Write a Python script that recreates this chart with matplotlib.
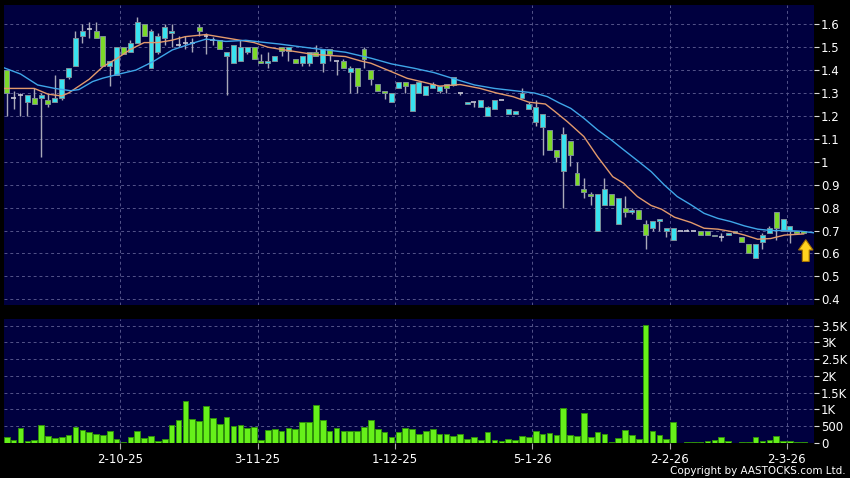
import numpy as np
import matplotlib
matplotlib.use("Agg")
import matplotlib.pyplot as plt
from matplotlib.patches import FancyArrow

# ---- data (one candle per trading day) ----
opens = [1.40, 1.28, 1.29, 1.26, 1.28, 1.28, 1.27, 1.26, 1.28, 1.37,
         1.42, 1.55, 1.58, 1.57, 1.55, 1.42, 1.38, 1.50, 1.48, 1.52,
         1.60, 1.41, 1.48, 1.54, 1.56, 1.51, 1.52, 1.52, 1.59, 1.55,
         1.53, 1.53, 1.46, 1.43, 1.44, 1.48, 1.50, 1.44, 1.43, 1.44,
         1.50, 1.485, 1.45, 1.43, 1.43, 1.48, 1.43, 1.49, 1.44, 1.44,
         1.39, 1.41, 1.49, 1.40, 1.34, 1.31, 1.26, 1.32, 1.35, 1.22,
         1.30, 1.29, 1.32, 1.31, 1.34, 1.335, 1.30, 1.252, 1.26, 1.24,
         1.20, 1.23, 1.27, 1.21, 1.21, 1.28, 1.23, 1.175, 1.15, 1.14,
         1.05, 0.96, 1.09, 0.95, 0.88, 0.86, 0.70, 0.81, 0.86, 0.73,
         0.80, 0.78, 0.79, 0.73, 0.71, 0.74, 0.70, 0.66, 0.70, 0.70,
         0.70, 0.70, 0.70, 0.68, 0.673, 0.68, 0.69, 0.67, 0.64, 0.58,
         0.65, 0.69, 0.78, 0.70, 0.70, 0.70, 0.70]
highs = [1.40, 1.31, 1.30, 1.29, 1.32, 1.30, 1.30, 1.38, 1.36, 1.41,
         1.57, 1.60, 1.61, 1.61, 1.55, 1.44, 1.50, 1.50, 1.53, 1.63,
         1.60, 1.58, 1.56, 1.60, 1.60, 1.55, 1.55, 1.54, 1.60, 1.56,
         1.545, 1.53, 1.48, 1.51, 1.53, 1.50, 1.50, 1.47, 1.48, 1.46,
         1.50, 1.50, 1.45, 1.46, 1.48, 1.51, 1.49, 1.49, 1.44, 1.45,
         1.42, 1.41, 1.50, 1.40, 1.34, 1.31, 1.30, 1.35, 1.35, 1.34,
         1.35, 1.33, 1.35, 1.33, 1.34, 1.37, 1.30, 1.26, 1.26, 1.27,
         1.245, 1.27, 1.27, 1.23, 1.22, 1.32, 1.26, 1.27, 1.21, 1.14,
         1.05, 1.15, 1.09, 1.00, 0.93, 0.87, 0.86, 0.93, 0.86, 0.84,
         0.85, 0.80, 0.79, 0.745, 0.74, 0.75, 0.71, 0.71, 0.70, 0.705,
         0.70, 0.70, 0.70, 0.68, 0.69, 0.69, 0.70, 0.67, 0.64, 0.64,
         0.69, 0.72, 0.78, 0.75, 0.72, 0.70, 0.70]
lows = [1.20, 1.23, 1.20, 1.20, 1.25, 1.02, 1.24, 1.26, 1.27, 1.36,
        1.42, 1.52, 1.54, 1.54, 1.42, 1.33, 1.38, 1.47, 1.48, 1.52,
        1.55, 1.41, 1.47, 1.51, 1.50, 1.50, 1.49, 1.48, 1.55, 1.47,
        1.51, 1.49, 1.29, 1.43, 1.44, 1.47, 1.45, 1.43, 1.41, 1.44,
        1.46, 1.44, 1.43, 1.42, 1.42, 1.46, 1.39, 1.44, 1.38, 1.41,
        1.30, 1.30, 1.41, 1.335, 1.31, 1.275, 1.26, 1.32, 1.30, 1.22,
        1.30, 1.29, 1.32, 1.30, 1.30, 1.33, 1.29, 1.25, 1.24, 1.24,
        1.20, 1.23, 1.27, 1.21, 1.21, 1.28, 1.23, 1.155, 1.03, 1.05,
        1.00, 0.80, 0.98, 0.90, 0.84, 0.81, 0.70, 0.81, 0.81, 0.73,
        0.76, 0.77, 0.75, 0.62, 0.70, 0.70, 0.67, 0.66, 0.70, 0.70,
        0.70, 0.68, 0.68, 0.675, 0.656, 0.68, 0.69, 0.65, 0.60, 0.58,
        0.62, 0.69, 0.66, 0.70, 0.645, 0.69, 0.69]
closes = [1.30, 1.28, 1.29, 1.29, 1.25, 1.29, 1.25, 1.28, 1.36, 1.41,
          1.54, 1.57, 1.58, 1.54, 1.42, 1.44, 1.50, 1.47, 1.52, 1.61,
          1.55, 1.57, 1.55, 1.59, 1.57, 1.51, 1.52, 1.52, 1.57, 1.55,
          1.53, 1.49, 1.48, 1.51, 1.50, 1.50, 1.45, 1.43, 1.44, 1.46,
          1.485, 1.50, 1.43, 1.46, 1.48, 1.46, 1.49, 1.47, 1.44, 1.41,
          1.41, 1.33, 1.45, 1.36, 1.31, 1.30, 1.30, 1.35, 1.33, 1.34,
          1.35, 1.33, 1.34, 1.33, 1.32, 1.37, 1.30, 1.26, 1.26, 1.27,
          1.24, 1.27, 1.27, 1.23, 1.22, 1.30, 1.25, 1.24, 1.21, 1.05,
          1.02, 1.12, 1.03, 0.90, 0.87, 0.85, 0.86, 0.88, 0.81, 0.84,
          0.78, 0.79, 0.75, 0.68, 0.74, 0.75, 0.71, 0.71, 0.70, 0.70,
          0.70, 0.68, 0.68, 0.675, 0.673, 0.69, 0.70, 0.65, 0.60, 0.64,
          0.68, 0.71, 0.71, 0.75, 0.72, 0.69, 0.69]
volumes = [169, 99, 456, 60, 99, 526, 198, 139, 188, 238,
           476, 387, 317, 278, 228, 367, 129, 15, 188, 367,
           149, 208, 69, 109, 526, 675, 1250, 724, 665, 1111,
           734, 565, 774, 506, 526, 436, 476, 89, 397, 427,
           357, 456, 427, 635, 615, 1141, 675, 347, 436, 347,
           347, 367, 466, 675, 427, 327, 169, 327, 436, 417,
           268, 347, 407, 258, 278, 208, 278, 119, 169, 99,
           327, 79, 69, 119, 99, 198, 179, 357, 258, 308,
           228, 1042, 248, 218, 883, 169, 327, 268, 40, 159,
           387, 228, 129, 3510, 347, 248, 129, 635, 10, 40,
           20, 40, 69, 89, 169, 60, 5, 30, 30, 179,
           50, 89, 208, 60, 60, 30, 20]

# moving averages (candle index, price)
ma10_x = [-0.4, 4, 6, 8, 9, 10, 12, 14, 16, 18, 20, 22, 24, 26, 29, 32, 34,
          36, 38, 40, 44.5, 49.3, 51.5, 53, 56, 58.3, 60.3, 63, 66, 68.9,
          71.3, 73.7, 76, 78.4, 79.8, 81.6, 84, 86, 88.2, 89.8, 91.8, 93.8,
          95.3, 97.2, 99.6, 101.5, 103.5, 105.4, 107.4, 109.3, 111.2, 113.2,
          116]
ma10_y = [1.32, 1.32, 1.295, 1.287, 1.30, 1.32, 1.36, 1.415, 1.45, 1.49,
          1.52, 1.52, 1.53, 1.546, 1.555, 1.54, 1.53, 1.52, 1.50, 1.49,
          1.469, 1.459, 1.44, 1.43, 1.393, 1.364, 1.35, 1.33, 1.337, 1.32,
          1.30, 1.284, 1.26, 1.252, 1.219, 1.175, 1.11, 1.022, 0.935, 0.906,
          0.848, 0.809, 0.793, 0.758, 0.735, 0.71, 0.706, 0.696, 0.68,
          0.662, 0.665, 0.68, 0.685]
ma20_x = [-0.4, 2, 4.5, 7, 9.3, 10.5, 12.5, 14, 16.4, 18.8, 21.3, 24.1, 27,
          29, 31.9, 34.8, 37.7, 39.6, 44.5, 49.3, 53, 56, 59.3, 62.2, 65.2,
          68.1, 71, 73.9, 76.8, 78.7, 80.4, 82.1, 84, 86, 88, 89.8, 91.8,
          93.8, 95.7, 97.6, 99.6, 101.5, 103.5, 105.4, 107.4, 109.3, 111.2,
          113.2, 115.6, 117.5]
ma20_y = [1.41, 1.383, 1.335, 1.32, 1.31, 1.315, 1.35, 1.365, 1.383, 1.40,
          1.437, 1.488, 1.517, 1.535, 1.525, 1.53, 1.52, 1.514, 1.495, 1.478,
          1.452, 1.427, 1.408, 1.389, 1.361, 1.335, 1.32, 1.31, 1.30, 1.284,
          1.257, 1.233, 1.19, 1.139, 1.095, 1.052, 1.005, 0.957, 0.899,
          0.848, 0.812, 0.775, 0.753, 0.739, 0.72, 0.706, 0.70, 0.70, 0.697,
          0.69]

date_pos = [16.5, 36.5, 56.5, 76.5, 96.5, 113.5]
date_labels = ['2-10-25', '3-11-25', '1-12-25', '5-1-26', '2-2-26', '2-3-26']
price_ticks = [0.4, 0.5, 0.6, 0.7, 0.8, 0.9, 1.0, 1.1, 1.2, 1.3, 1.4, 1.5, 1.6]
vol_ticks = [0, 500, 1000, 1500, 2000, 2500, 3000, 3500]
vol_labels = ['0', '500', '1K', '1.5K', '2K', '2.5K', '3K', '3.5K']

# ---- styling ----
BG = '#00003f'
GRID = '#54548a'
UP = '#38e2f0'
DOWN = '#7cd92a'

o = np.array(opens); h = np.array(highs); l = np.array(lows); c = np.array(closes)
x = np.arange(len(o))

fig = plt.figure(figsize=(8.5, 4.78), dpi=100, facecolor='black')
ax = fig.add_axes([4/850, 1 - 305/478, 810/850, 300/478])
axv = fig.add_axes([4/850, 1 - 443/478, 810/850, 124/478], sharex=ax)

for a in (ax, axv):
    a.set_facecolor(BG)
    for s in a.spines.values():
        s.set_visible(False)
    a.yaxis.tick_right()
    a.tick_params(axis='y', colors='#dddddd', labelcolor='white', labelsize=8.5,
                  length=3.5, width=0.8, pad=1.5)
    a.grid(True, color=GRID, linestyle=(0, (3, 3)), linewidth=0.7)
    a.set_axisbelow(True)

# candles
ax.vlines(x, l, h, color='#a9a9b9', linewidth=1, zorder=2)
body = np.abs(c - o)
flat = body < 0.005
colors = [UP if cc > oo else DOWN for oo, cc in zip(o, c)]
ax.bar(x[~flat], body[~flat], bottom=np.minimum(o, c)[~flat], width=0.72,
       color=np.array(colors)[~flat], edgecolor='#7d8e98', linewidth=0.7, zorder=3)
ax.hlines(c[flat], x[flat] - 0.36, x[flat] + 0.36, color='#c8c8d4', linewidth=1.2, zorder=3)

ax.plot(ma10_x, ma10_y, color='#e39a6c', linewidth=1, zorder=4)
ax.plot(ma20_x, ma20_y, color='#3fa6e8', linewidth=1, zorder=4)

# marker arrow under the last candle
ax.add_patch(FancyArrow(116.3, 0.565, 0, 0.095, width=1.0, head_width=2.1,
                        head_length=0.045, length_includes_head=True,
                        facecolor='#ffd21f', edgecolor='#a87400', linewidth=0.8, zorder=5))

ax.set_ylim(0.375, 1.684)
ax.set_yticks(price_ticks)
ax.set_yticklabels([f"{round(v, 1):g}" for v in price_ticks])
ax.tick_params(axis='x', length=0, labelbottom=False)

# volume
axv.bar(x, volumes, width=0.82, color='#66f01a', edgecolor='#2f8f0c', linewidth=0.7, zorder=3)
axv.set_ylim(0, 3700)
axv.set_yticks(vol_ticks)
axv.set_yticklabels(vol_labels)
axv.set_xlim(-0.4, 117.5)
axv.set_xticks(date_pos)
axv.set_xticklabels(date_labels)
axv.tick_params(axis='x', colors='#aaaaaa', labelcolor='white', labelsize=8.5,
                length=4, width=0.8, pad=3)

fig.text(846/850, 1 - 471/478, 'Copyright by AASTOCKS.com Ltd.', color='white',
         fontsize=7.5, ha='right', va='center')

fig.savefig('out.png', dpi=100, facecolor='black')
